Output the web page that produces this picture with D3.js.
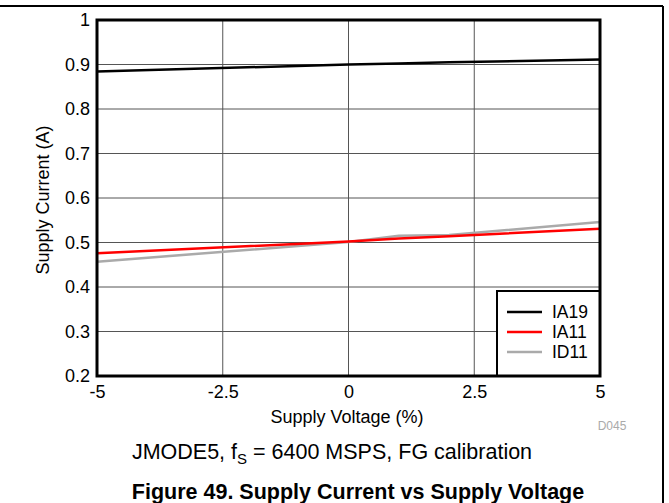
<!DOCTYPE html>
<html><head><meta charset="utf-8">
<script src="https://cdn.jsdelivr.net/npm/d3@7"></script>
<style>body{margin:0;background:#fff}svg{display:block}text{font-family:"Liberation Sans",Arial,sans-serif}</style>
</head><body>
<script>
const voltages = [-5, 0, 1, 2, 5];
const ia19 = [0.884, 0.900, 0.902, 0.905, 0.911];
const ia11 = [0.476, 0.502, 0.509, 0.514, 0.531];
const id11 = [0.457, 0.501, 0.515, 0.517, 0.546];
const seriesNames = ["IA19", "IA11", "ID11"];
const seriesColors = ["#000000", "#ff0000", "#aaaaaa"];
const xTicks = [-5, -2.5, 0, 2.5, 5];
const yTicks = [0.2, 0.3, 0.4, 0.5, 0.6, 0.7, 0.8, 0.9, 1];

const W = 669, H = 503;
const m = {l: 97, r: 600, t: 20, b: 376};
const svg = d3.select("body").append("svg").attr("width", W).attr("height", H);

// outer frame
svg.append("line").attr("x1", 0).attr("x2", 663).attr("y1", 6).attr("y2", 6).attr("stroke", "#000").attr("stroke-width", 2);
svg.append("line").attr("x1", 663).attr("x2", 663).attr("y1", 6).attr("y2", H).attr("stroke", "#000").attr("stroke-width", 2);

const x = d3.scaleLinear().domain([-5, 5]).range([m.l, m.r]);
const y = d3.scaleLinear().domain([0.2, 1]).range([m.b, m.t]);

// grid
const g = svg.append("g");
g.selectAll(".gx").data(xTicks.slice(1, -1)).enter().append("line")
  .attr("x1", d => x(d)).attr("x2", d => x(d)).attr("y1", m.t).attr("y2", m.b)
  .attr("stroke", "#555").attr("stroke-width", 1);
g.selectAll(".gy").data(yTicks.slice(1, -1)).enter().append("line")
  .attr("x1", m.l).attr("x2", m.r).attr("y1", d => y(d)).attr("y2", d => y(d))
  .attr("stroke", "#555").attr("stroke-width", 1);

// axes labels
const xAxis = d3.axisBottom(x).tickValues(xTicks).tickSize(0).tickPadding(9).tickFormat(d => String(d));
const ax = svg.append("g").attr("transform", `translate(0,${m.b})`).call(xAxis);
ax.select(".domain").remove();
ax.selectAll("text").attr("font-size", 18).attr("fill", "#000").attr("font-family", "Liberation Sans, Arial, sans-serif");

const yAxis = d3.axisLeft(y).tickValues(yTicks).tickSize(0).tickPadding(7).tickFormat(d => String(d));
const ay = svg.append("g").attr("transform", `translate(${m.l},0)`).call(yAxis);
ay.select(".domain").remove();
ay.selectAll("text").attr("font-size", 18).attr("fill", "#000").attr("font-family", "Liberation Sans, Arial, sans-serif");

// lines
const series = [ia19, ia11, id11];
const line = d3.line().x((d, i) => x(voltages[i])).y(d => y(d));
[2, 1, 0].forEach(k => {
  svg.append("path").datum(series[k]).attr("d", line).attr("fill", "none")
    .attr("stroke", seriesColors[k]).attr("stroke-width", 2.5);
});

// legend
const lg = svg.append("g");
lg.append("rect").attr("x", 497).attr("y", 291).attr("width", m.r - 497).attr("height", m.b - 291)
  .attr("fill", "#fff").attr("stroke", "#000").attr("stroke-width", 2);
seriesNames.forEach((n, i) => {
  const yy = 312 + i * 20;
  lg.append("line").attr("x1", 507).attr("x2", 542).attr("y1", yy).attr("y2", yy)
    .attr("stroke", seriesColors[i]).attr("stroke-width", 2.5);
  lg.append("text").attr("x", 552).attr("y", yy).attr("dy", "0.35em").attr("font-size", 17.5).text(n);
});

// plot frame
svg.append("rect").attr("x", m.l).attr("y", m.t).attr("width", m.r - m.l).attr("height", m.b - m.t)
  .attr("fill", "none").attr("stroke", "#000").attr("stroke-width", 3);

// titles
svg.append("text").attr("x", 347).attr("y", 423).attr("text-anchor", "middle").attr("font-size", 18).text("Supply Voltage (%)");
svg.append("text").attr("transform", "translate(49,200) rotate(-90)").attr("text-anchor", "middle").attr("font-size", 18).text("Supply Current (A)");
svg.append("text").attr("x", 612).attr("y", 430).attr("text-anchor", "middle").attr("font-size", 12).attr("fill", "#aaa").text("D045");

const sub = svg.append("text").attr("x", 332).attr("y", 459).attr("text-anchor", "middle").attr("font-size", 21.5);
sub.append("tspan").text("JMODE5, f");
sub.append("tspan").attr("font-size", 15).attr("dy", 5).text("S");
sub.append("tspan").attr("dy", -5).text(" = 6400 MSPS, FG calibration");

svg.append("text").attr("x", 358).attr("y", 499).attr("text-anchor", "middle").attr("font-size", 21.5)
  .attr("font-weight", "bold").text("Figure 49. Supply Current vs Supply Voltage");
</script>
</body></html>
